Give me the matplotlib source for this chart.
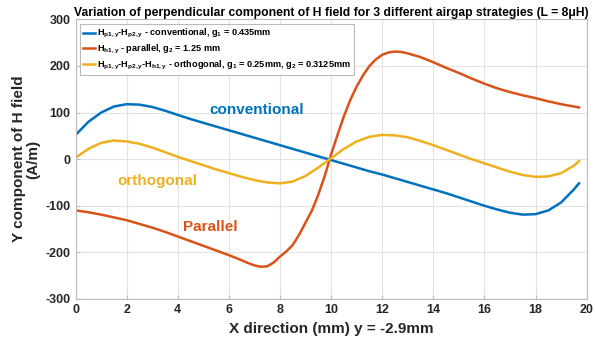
import numpy as np
import matplotlib
matplotlib.use('Agg')
import matplotlib.pyplot as plt

plt.rcParams['font.family'] = 'Liberation Sans'
plt.rcParams['font.weight'] = 'bold'
plt.rcParams['axes.labelweight'] = 'bold'
plt.rcParams['axes.titleweight'] = 'bold'
plt.rcParams['axes.unicode_minus'] = False
plt.rcParams['mathtext.fontset'] = 'custom'
plt.rcParams['mathtext.rm'] = 'Liberation Sans:bold'
plt.rcParams['mathtext.bf'] = 'Liberation Sans:bold'
plt.rcParams['mathtext.it'] = 'Liberation Sans:bold'

# x positions (mm)
x_mm = [0, 0.5, 1, 1.5, 2, 2.5, 3, 3.5, 4, 4.5, 5, 5.5, 6, 6.5, 7, 7.5, 8, 8.5, 9, 9.5,
        10, 10.5, 11, 11.5, 12, 12.5, 13, 13.5, 14, 14.5, 15, 15.5, 16, 16.5, 17, 17.5,
        18, 18.5, 19, 19.5, 19.7]

conventional = [52, 80, 100, 113, 118, 117, 112, 104, 95, 86, 78, 70, 62, 54, 46, 38, 30, 22, 14, 6,
                -2, -10, -18, -26, -33, -41, -49, -57, -65, -73, -82, -91, -100, -108, -115, -119,
                -118, -110, -93, -65, -52]

orthogonal = [3, 22, 35, 40, 38, 33, 25, 15, 5, -4, -13, -22, -30, -38, -45, -50, -52, -48, -36, -18,
              2, 22, 38, 48, 52, 51, 47, 39, 30, 20, 10, 0, -9, -18, -27, -34, -38, -37, -30, -14, -4]

# parallel curve read on a finer grid around the steep part
x_par = [0, 0.5, 1, 1.5, 2, 2.5, 3, 3.5, 4, 4.5, 5, 5.5, 6, 6.5, 6.75, 7, 7.25, 7.5, 7.75,
         8, 8.25, 8.5, 8.75, 9, 9.25, 9.5, 9.75, 10, 10.25, 10.5, 10.75, 11, 11.25, 11.5, 11.75,
         12, 12.25, 12.5, 12.75, 13, 13.5, 14, 14.5, 15, 15.5, 16, 16.5, 17, 17.5,
         18, 18.5, 19, 19.5, 19.7]
parallel = [-110, -114, -119, -125, -131, -139, -147, -156, -166, -176, -186, -196, -206, -217, -223,
            -228, -231, -230, -222, -209, -198, -184, -162, -136, -110, -76, -36, 10, 52, 92, 127,
            156, 180, 200, 214, 224, 229, 231, 230, 227, 219, 208, 196, 185, 173, 162, 152, 144, 137,
            131, 124, 118, 113, 111]

labels = [r'H$_{p1,y}$-H$_{p2,y}$ - conventional, g$_{1}$ = 0.435mm',
          r'H$_{h1,y}$ - parallel, g$_{2}$ = 1.25 mm',
          r'H$_{p1,y}$-H$_{p2,y}$-H$_{h1,y}$ - orthogonal, g$_{1}$ = 0.25mm, g$_{2}$ = 0.3125mm']
colors = ['#0072BD', '#D95319', '#EDB120']

fig = plt.figure(figsize=(5.95, 3.46), dpi=100)
ax = fig.add_axes([0.127, 0.136, 0.859, 0.808])

ax.plot(x_mm, conventional, color=colors[0], lw=1.8, label=labels[0])
ax.plot(x_par, parallel, color=colors[1], lw=1.8, label=labels[1])
ax.plot(x_mm, orthogonal, color=colors[2], lw=1.8, label=labels[2])

ax.text(7.07, 105, 'conventional', color=colors[0], fontsize=11, ha='center', va='center')
ax.text(3.2, -46, 'orthogonal', color=colors[2], fontsize=11, ha='center', va='center')
ax.text(5.27, -146, 'Parallel', color=colors[1], fontsize=11, ha='center', va='center')

ax.set_xlim(0, 20)
ax.set_ylim(-300, 300)
ax.set_xticks(np.arange(0, 21, 2))
ax.set_yticks(np.arange(-300, 301, 100))
ax.tick_params(direction='in', labelsize=9, colors='#262626', length=3, color='#bbbbbb')
ax.grid(True, color='#e3e3e3', lw=0.8)
ax.set_axisbelow(True)
for s in ax.spines.values():
    s.set_color('#bbbbbb')
    s.set_linewidth(0.8)

ax.set_xlabel('X direction (mm) y = -2.9mm', fontsize=11, labelpad=4.5, color='#262626')
ax.set_ylabel('Y component of H field\n(A/m)', fontsize=11, labelpad=4, color='#262626',
              linespacing=1.0)
ax.set_title('Variation of perpendicular component of H field for 3 different airgap strategies (L = 8μH)',
             fontsize=8.7, pad=1.5)

leg = ax.legend(loc='upper left', fontsize=6.6, handlelength=1.3, handletextpad=0.15,
                fancybox=False, framealpha=1, edgecolor='#bbbbbb', borderaxespad=0.5,
                labelspacing=0.28, borderpad=0.35)
leg.get_frame().set_linewidth(0.8)

fig.savefig('out.png', dpi=100)
